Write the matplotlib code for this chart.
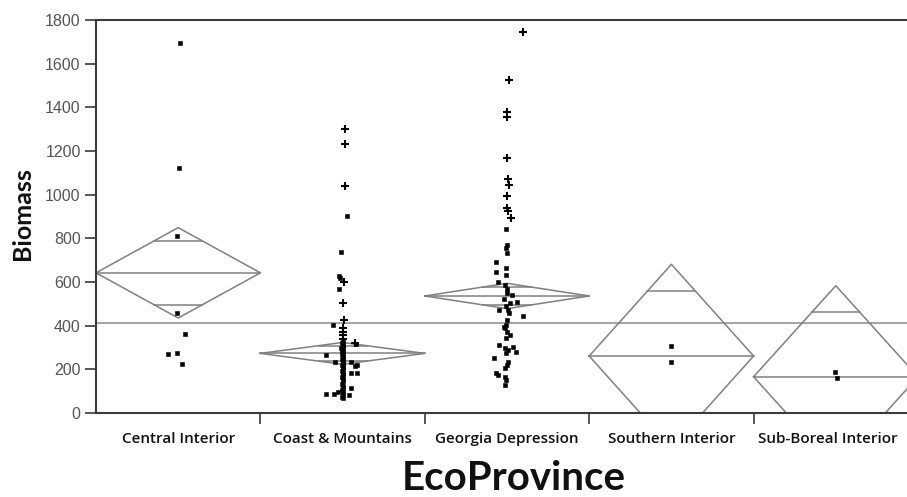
import numpy as np
import matplotlib
matplotlib.use("Agg")
import matplotlib.pyplot as plt
from matplotlib.ticker import FixedLocator, NullFormatter
from matplotlib.transforms import ScaledTranslation

# ---------------- data ----------------
categories = ["Central Interior", "Coast & Mountains", "Georgia Depression",
              "Southern Interior", "Sub-Boreal Interior"]
group_means = [642, 273, 536, 261, 166]
group_ci = [207, 50, 58, 420, 417]
grand_mean = 411

# dots (value) with small horizontal jitter (in category units)
ci_dots = [1695, 1122, 811, 457, 363, 276, 269, 224]
ci_dots_jit = [0.01, 0.006, -0.006, -0.006, 0.04, -0.006, -0.06, 0.025]
ci_plus = []
ci_plus_jit = []

cm_dots = [903, 739, 628, 617, 567, 403, 330, 320, 311, 315, 305, 298, 290, 285,
           278, 270, 266, 262, 255, 248, 240, 235, 235, 232, 225, 220, 218, 213,
           210, 200, 192, 185, 182, 182, 175, 165, 155, 145, 135, 125, 115, 113,
           105, 98, 95, 87, 87, 85, 82, 75, 69]
cm_dots_jit = [0.025, -0.01, -0.02, -0.015, -0.02, -0.06, 0.0, -0.005, 0.0, 0.08,
               0.005, -0.01, 0.0, -0.005, 0.005, -0.005, -0.1, 0.0, 0.005, -0.005,
               0.0, -0.045, 0.05, 0.005, 0.0, 0.085, -0.005, 0.075, 0.0, 0.005,
               -0.005, 0.0, 0.05, 0.09, 0.005, -0.005, 0.0, 0.005, -0.005, 0.0,
               0.005, 0.05, -0.005, -0.03, 0.0, -0.1, -0.055, 0.005, 0.04, -0.005,
               0.0]
cm_plus = [1300, 1234, 1038, 599, 505, 426, 388, 372, 357, 340, 319]
cm_plus_jit = [0.015, 0.015, 0.015, 0.01, 0.005, 0.01, 0.005, 0.005, 0.005,
               0.005, 0.075]

gd_dots = [841, 770, 755, 735, 693, 663, 648, 632, 601, 585, 570, 551, 541, 520,
           510, 502, 490, 472, 470, 460, 444, 426, 403, 394, 388, 370, 357, 342,
           311, 304, 297, 289, 281, 274, 250, 235, 220, 205, 182, 174, 166, 150,
           128]
gd_dots_jit = [-0.005, 0.0, -0.005, 0.0, -0.065, -0.005, -0.065, -0.005, -0.055,
               -0.01, 0.0, 0.0, 0.03, -0.02, 0.06, 0.02, -0.005, -0.05, 0.005,
               0.01, 0.1, 0.0, -0.005, -0.02, -0.01, 0.0, 0.02, -0.005, -0.05,
               0.035, -0.01, 0.005, 0.055, -0.005, -0.08, 0.005, 0.0, -0.01,
               -0.065, -0.055, -0.01, -0.005, -0.01]
gd_plus = [1747, 1524, 1380, 1357, 1169, 1072, 1044, 995, 938, 925, 892]
gd_plus_jit = [0.095, 0.012, 0.0, 0.0, 0.0, 0.006, 0.012, 0.0, 0.0, 0.006, 0.025]

si_dots = [305, 232]
si_dots_jit = [0.0, 0.0]
si_plus = []
si_plus_jit = []

sb_dots = [189, 160]
sb_dots_jit = [-0.005, 0.007]
sb_plus = []
sb_plus_jit = []

dots = [ci_dots, cm_dots, gd_dots, si_dots, sb_dots]
dots_jit = [ci_dots_jit, cm_dots_jit, gd_dots_jit, si_dots_jit, sb_dots_jit]
pluses = [ci_plus, cm_plus, gd_plus, si_plus, sb_plus]
pluses_jit = [ci_plus_jit, cm_plus_jit, gd_plus_jit, si_plus_jit, sb_plus_jit]

y_ticks = [0, 200, 400, 600, 800, 1000, 1200, 1400, 1600, 1800]

# ---------------- figure ----------------
W, H = 907, 497
fig = plt.figure(figsize=(W / 100, H / 100), dpi=100)
ax = fig.add_axes([96 / W, (H - 413) / H, (918 - 96) / W, 393 / H])

n = len(categories)
ax.set_xlim(-0.5, n - 0.5)
ax.set_ylim(0, 1800)

line_col = "#808080"
# grand mean
ax.axhline(grand_mean, color="#8a8a8a", lw=1.1, zorder=1)

half = 0.5
r = 1 / np.sqrt(2)
for i, (m, c) in enumerate(zip(group_means, group_ci)):
    xs = [i - half, i, i + half, i, i - half]
    ys = [m, m + c, m, m - c, m]
    ax.plot(xs, ys, color=line_col, lw=1.1, zorder=2)
    ax.plot([i - half, i + half], [m, m], color=line_col, lw=1.1, zorder=2)
    hw = half * (1 - r)
    for s in (1, -1):
        ax.plot([i - hw, i + hw], [m + s * c * r, m + s * c * r],
                color=line_col, lw=1.1, zorder=2)

for i in range(n):
    if dots[i]:
        ax.plot(np.array(dots_jit[i]) + i, dots[i], ls="none", marker="s",
                ms=2.6, color="black", mec="black", mew=0.4, zorder=3)
    if pluses[i]:
        ax.plot(np.array(pluses_jit[i]) + i, pluses[i], ls="none", marker="+",
                ms=6, color="black", mew=1.5, zorder=3)

# axes styling
for sp in ["left", "bottom", "top"]:
    ax.spines[sp].set_color("#3a3a3a")
    ax.spines[sp].set_linewidth(1.5)
ax.spines["right"].set_visible(False)

ax.yaxis.set_major_locator(FixedLocator(y_ticks))
ax.set_yticklabels([str(v) for v in y_ticks], fontsize=11.5, color="#555555",
                   family="Liberation Sans")
ax.tick_params(axis="y", length=8, width=1.2, color="#3a3a3a", pad=3)

# x ticks at category boundaries, labels at centres
ax.xaxis.set_major_locator(FixedLocator([i + 0.5 for i in range(n - 1)]))
ax.xaxis.set_major_formatter(NullFormatter())
ax.tick_params(axis="x", which="major", length=8, width=1.2, color="#3a3a3a")
ax.set_xticks(range(n), minor=True)
labels = ax.set_xticklabels(categories, minor=True, fontsize=11,
                            fontweight="semibold", family="Open Sans",
                            color="#111111")
ax.tick_params(axis="x", which="minor", length=0, pad=14)
# last label nudged left to stay inside the figure (as in the reference)
labels[-1].set_transform(labels[-1].get_transform() +
                         ScaledTranslation(-8 / 100, 0, fig.dpi_scale_trans))

fig.text(23 / W, 1 - 214 / H, "Biomass", rotation=90, ha="center", va="center",
         fontsize=18, fontweight="bold", family="Lato", color="#111111")
fig.text(514 / W, 1 - 479 / H, "EcoProvince", ha="center", va="center",
         fontsize=29, fontweight="bold", family="Lato", color="#111111")

fig.savefig("out.png", dpi=100)
